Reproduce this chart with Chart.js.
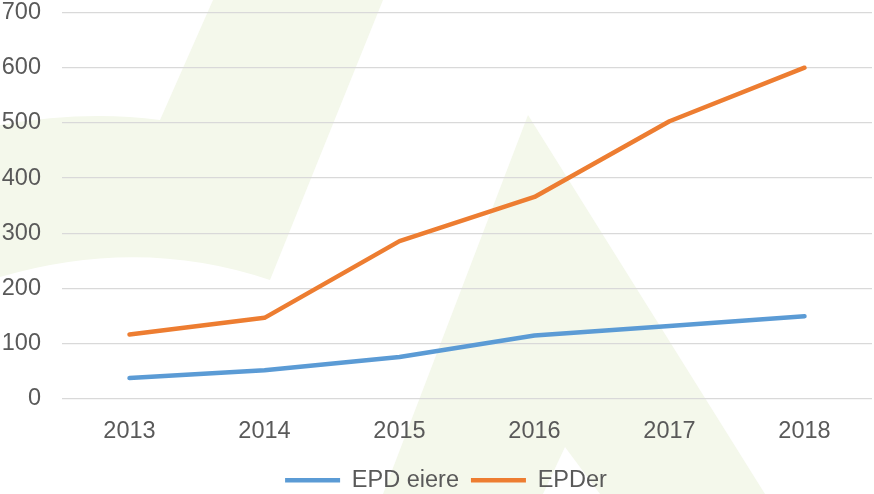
<!DOCTYPE html>
<html>
<head>
<meta charset="utf-8">
<script src="https://cdn.jsdelivr.net/npm/chart.js@4.4.1/dist/chart.umd.min.js"></script>
<style>
  html, body { margin: 0; padding: 0; background: #fff; }
  #wrap { width: 874px; height: 494px; position: relative; }
</style>
</head>
<body>
<div id="wrap"><canvas id="grafico_epd"></canvas></div>
<script>
const aar = ['2013', '2014', '2015', '2016', '2017', '2018'];
const epdEiere = [38, 52, 76, 115, 132, 150];
const epder = [117, 147, 286, 366, 503, 600];
const yTicks = { min: 0, max: 700, step: 100 };

const skrift = { family: '"Liberation Sans", Arial, sans-serif', size: 23.5 };

// lys grønn logo i bakgrunnen
const vannmerke = {
    id: 'vannmerke',
    beforeDraw(chart) {
        const c = chart.ctx;
        const sx = chart.width / 874, sy = chart.height / 494;
        c.save();
        c.scale(sx, sy);
        c.fillStyle = '#fff';
        c.fillRect(0, 0, 874, 494);
        c.fillStyle = '#f4f8eb';
        c.beginPath();
        c.moveTo(213, 0);
        c.lineTo(383, 0);
        c.lineTo(270, 280);
        c.quadraticCurveTo(140, 236, 0, 277);
        c.lineTo(0, 125);
        c.quadraticCurveTo(85, 110, 160, 120);
        c.closePath();
        c.fill();
        c.beginPath();
        c.moveTo(528, 115);
        c.lineTo(765, 494);
        c.lineTo(600, 494);
        c.lineTo(565, 447);
        c.lineTo(543, 494);
        c.lineTo(383, 494);
        c.closePath();
        c.fill();
        c.restore();
    }
};

// legenden står litt til høyre for midten i originalen
const flyttLegende = {
    id: 'flyttLegende',
    afterLayout(chart) {
        chart.legend.left += 9;
        chart.legend.right += 9;
    }
};

const ctx = document.getElementById('grafico_epd');
new Chart(ctx, {
    type: 'line',
    data: {
        labels: aar,
        datasets: [{
            label: 'EPD eiere',
            data: epdEiere,
            borderColor: '#5b9bd5',
            backgroundColor: '#5b9bd5',
            borderWidth: 4.5,
            borderCapStyle: 'round',
            borderJoinStyle: 'round',
            pointRadius: 0,
            tension: 0
        }, {
            label: 'EPDer',
            data: epder,
            borderColor: '#ed7d31',
            backgroundColor: '#ed7d31',
            borderWidth: 4.5,
            borderCapStyle: 'round',
            borderJoinStyle: 'round',
            pointRadius: 0,
            tension: 0
        }]
    },
    options: {
        responsive: true,
        maintainAspectRatio: false,
        animation: false,
        layout: { padding: { top: 12.5, right: 2, left: 2, bottom: -8 } },
        plugins: {
            legend: {
                position: 'bottom',
                labels: {
                    usePointStyle: true,
                    pointStyle: 'line',
                    pointStyleWidth: 55,
                    padding: 12,
                    color: '#595959',
                    font: skrift
                }
            },
            tooltip: { enabled: false }
        },
        scales: {
            x: {
                offset: true,
                afterFit(scale) { scale.height = 57.5; },
                grid: { display: false },
                border: { display: false },
                ticks: {
                    color: '#595959',
                    padding: 10,
                    font: skrift
                }
            },
            y: {
                min: yTicks.min,
                max: yTicks.max,
                afterFit(scale) {
                    scale.width = 60;
                    scale.paddingTop = 0;
                    scale.paddingBottom = 0;
                },
                grid: { color: '#d9d9d9', lineWidth: 1.3, drawTicks: false },
                border: { display: false },
                ticks: {
                    stepSize: yTicks.step,
                    padding: 21,
                    color: '#595959',
                    font: skrift
                }
            }
        }
    },
    plugins: [vannmerke, flyttLegende]
});
</script>
</body>
</html>
